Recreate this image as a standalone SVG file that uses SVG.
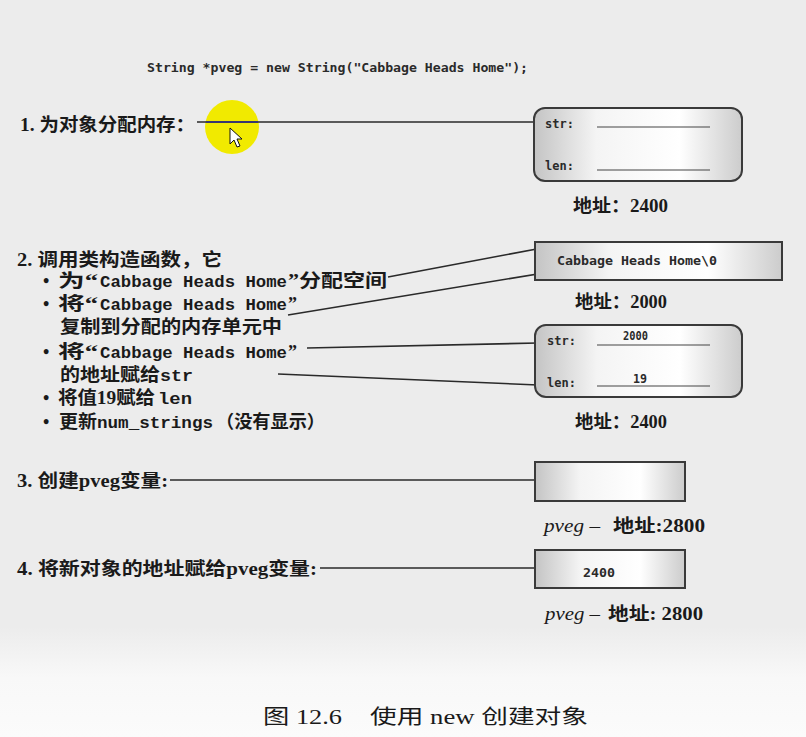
<svg xmlns="http://www.w3.org/2000/svg" width="806" height="737" viewBox="0 0 806 737">
<style>
.bg{fill:#ececec}
.cn{font-family:"Liberation Serif","Noto Sans CJK SC",serif;font-weight:bold;font-size:18px;fill:#1a1a1a}
.cap{font-family:"Liberation Serif","Noto Sans CJK SC",serif;font-size:20px;fill:#1a1a1a}
.cm{font-family:"Liberation Mono","Noto Sans CJK SC",monospace;font-weight:bold;font-size:17px;fill:#1a1a1a}
.code{font-family:"DejaVu Sans Mono",monospace;font-weight:bold;font-size:12px;fill:#2a2a2a}
.bx{font-family:"DejaVu Sans Mono",monospace;font-weight:bold;font-size:12px;fill:#2a2a2a}
.it{font-family:"Liberation Serif",serif;font-style:italic;font-size:19px;fill:#1a1a1a}
.box{fill:url(#g);stroke:#3a3a3a;stroke-width:2}
.ul{stroke:#444;stroke-width:1.2}
.conn line{stroke:#2a2a2a;stroke-width:1.6}
</style>
<defs>
<linearGradient id="g" x1="0" y1="0" x2="1" y2="0">
<stop offset="0" stop-color="#c4c4c4"/>
<stop offset="0.3" stop-color="#f4f4f4"/>
<stop offset="0.7" stop-color="#ffffff"/>
<stop offset="1" stop-color="#cccccc"/>
</linearGradient>
<linearGradient id="bgg" x1="0" y1="0" x2="0" y2="1">
<stop offset="0" stop-color="#ececec"/>
<stop offset="0.85" stop-color="#ececec"/>
<stop offset="0.92" stop-color="#f8f8f8"/>
<stop offset="1" stop-color="#fbfbfb"/>
</linearGradient>
</defs>
<rect x="0" y="0" width="806" height="737" fill="url(#bgg)"/>

<text class="code" x="147" y="72" textLength="381" lengthAdjust="spacingAndGlyphs">String *pveg = new String("Cabbage Heads Home");</text>

<g id="highlight">
<circle cx="232" cy="127" r="27" fill="#f1ea00"/>
</g>

<g class="conn" id="connectors">
<line x1="197" y1="122" x2="535" y2="122"/>
<line x1="388" y1="277" x2="542" y2="248"/>
<line x1="288" y1="315" x2="562" y2="270"/>
<line x1="307" y1="348" x2="538" y2="343"/>
<line x1="278" y1="374" x2="538" y2="385"/>
<line x1="170" y1="480" x2="535" y2="480"/>
<line x1="320" y1="568" x2="535" y2="568"/>
</g>
<line x1="206" y1="122" x2="258" y2="122" stroke="#2b2b8c" stroke-width="1.6"/>
<polygon points="230,128 230,144 234,140 237,147 240,146 237,139 242,139" fill="#fff" stroke="#111" stroke-width="1"/>

<g id="step1">
<text class="cn" x="20" y="131" textLength="175" lengthAdjust="spacingAndGlyphs">1. 为对象分配内存：</text>
</g>

<g id="obj1">
<rect class="box" x="534" y="108" width="208" height="73" rx="11"/>
<text class="bx" x="545" y="128">str:</text>
<line class="ul" x1="597" y1="127" x2="710" y2="127"/>
<text class="bx" x="545" y="170">len:</text>
<line class="ul" x1="597" y1="170" x2="710" y2="170"/>
<text class="cn" x="573" y="212" textLength="95" lengthAdjust="spacingAndGlyphs">地址：2400</text>
</g>

<g id="step2">
<text class="cn" x="17" y="266" textLength="205" lengthAdjust="spacingAndGlyphs">2. 调用类构造函数，它</text>
<text class="cn" x="43" y="287">•</text>
<text class="cn" x="58" y="287" textLength="40" lengthAdjust="spacingAndGlyphs">为“</text>
<text class="cm" x="100" y="287" textLength="187" lengthAdjust="spacingAndGlyphs">Cabbage Heads Home</text>
<text class="cn" x="288" y="287" textLength="99" lengthAdjust="spacingAndGlyphs">”分配空间</text>
<text class="cn" x="43" y="310">•</text>
<text class="cn" x="58" y="310" textLength="40" lengthAdjust="spacingAndGlyphs">将“</text>
<text class="cm" x="100" y="310" textLength="187" lengthAdjust="spacingAndGlyphs">Cabbage Heads Home</text>
<text class="cn" x="288" y="310">”</text>
<text class="cn" x="60" y="333" textLength="222" lengthAdjust="spacingAndGlyphs">复制到分配的内存单元中</text>
<text class="cn" x="43" y="358">•</text>
<text class="cn" x="58" y="358" textLength="40" lengthAdjust="spacingAndGlyphs">将“</text>
<text class="cm" x="100" y="358" textLength="187" lengthAdjust="spacingAndGlyphs">Cabbage Heads Home</text>
<text class="cn" x="288" y="358">”</text>
<text class="cn" x="60" y="381" textLength="100" lengthAdjust="spacingAndGlyphs">的地址赋给</text>
<text class="cm" x="160" y="381" textLength="33" lengthAdjust="spacingAndGlyphs">str</text>
<text class="cn" x="43" y="404">•</text>
<text class="cn" x="58" y="404" textLength="97" lengthAdjust="spacingAndGlyphs">将值19赋给</text>
<text class="cm" x="158" y="404" textLength="34" lengthAdjust="spacingAndGlyphs">len</text>
<text class="cn" x="43" y="428">•</text>
<text class="cn" x="59" y="428" textLength="38" lengthAdjust="spacingAndGlyphs">更新</text>
<text class="cm" x="97" y="428" textLength="116" lengthAdjust="spacingAndGlyphs">num_strings</text>
<text class="cn" x="216" y="428" textLength="109" lengthAdjust="spacingAndGlyphs">（没有显示）</text>
</g>

<g id="strbuf">
<rect class="box" x="535" y="242" width="247" height="38"/>
<text class="bx" x="557" y="265" textLength="160" lengthAdjust="spacingAndGlyphs">Cabbage Heads Home\0</text>
<text class="cn" x="575" y="308" textLength="92" lengthAdjust="spacingAndGlyphs">地址：2000</text>
</g>

<g id="obj2">
<rect class="box" x="535" y="325" width="207" height="72" rx="11"/>
<text class="bx" x="547" y="345">str:</text>
<text class="bx" x="623" y="340" textLength="25" lengthAdjust="spacingAndGlyphs">2000</text>
<line class="ul" x1="597" y1="345" x2="710" y2="345"/>
<text class="bx" x="547" y="387">len:</text>
<text class="bx" x="633" y="383" textLength="14" lengthAdjust="spacingAndGlyphs">19</text>
<line class="ul" x1="597" y1="386" x2="710" y2="386"/>
<text class="cn" x="575" y="428" textLength="92" lengthAdjust="spacingAndGlyphs">地址：2400</text>
</g>

<g id="step3">
<text class="cn" x="17" y="487" textLength="151" lengthAdjust="spacingAndGlyphs">3. 创建pveg变量:</text>
</g>

<g id="pveg1">
<rect class="box" x="535" y="462" width="150" height="39"/>
<text class="it" x="544" y="532" textLength="56" lengthAdjust="spacingAndGlyphs">pveg –</text>
<text class="cn" x="613" y="532" textLength="92" lengthAdjust="spacingAndGlyphs">地址:2800</text>
</g>

<g id="step4">
<text class="cn" x="17" y="575" textLength="300" lengthAdjust="spacingAndGlyphs">4. 将新对象的地址赋给pveg变量:</text>
</g>

<g id="pveg2">
<rect class="box" x="535" y="550" width="150" height="38"/>
<text class="bx" x="583" y="577" font-size="11.5" textLength="32" lengthAdjust="spacingAndGlyphs">2400</text>
<text class="it" x="545" y="620" textLength="55" lengthAdjust="spacingAndGlyphs">pveg –</text>
<text class="cn" x="608" y="620" textLength="95" lengthAdjust="spacingAndGlyphs">地址: 2800</text>
</g>

<g id="caption">
<text class="cap" x="263" y="724" textLength="79" lengthAdjust="spacingAndGlyphs">图 12.6</text>
<text class="cap" x="370" y="724" textLength="218" lengthAdjust="spacingAndGlyphs">使用 new 创建对象</text>
</g>
</svg>
